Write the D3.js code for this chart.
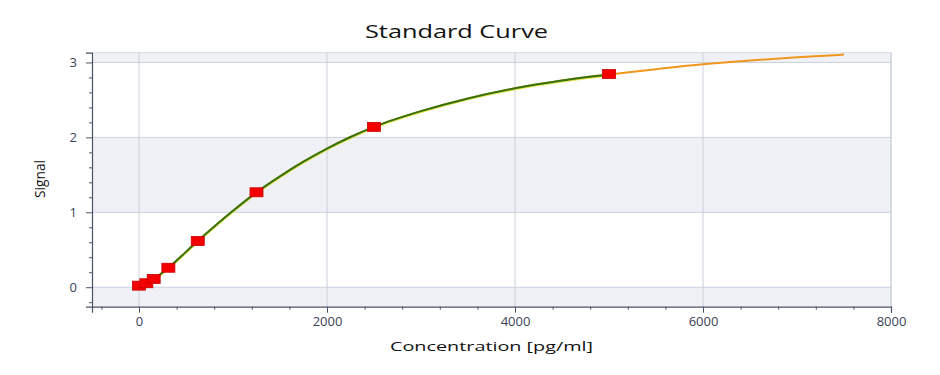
<!DOCTYPE html>
<html><head><meta charset="utf-8">
<script src="https://cdn.jsdelivr.net/npm/d3@7"></script>
<style>body{margin:0;background:#fff}svg{display:block}</style>
</head><body>
<svg id="c" width="940" height="375"></svg>
<script>
// Standards (measured points)
const stdConc   = [0, 78.125, 156.25, 312.5, 625, 1250, 2500, 5000];
const stdSignal = [0.021, 0.053, 0.11, 0.26, 0.617, 1.267, 2.14, 2.845];
// Fitted curve
const fitConc   = [0, 156, 312, 625, 1000, 1250, 1500, 1750, 2000, 2250, 2500, 3000, 3500, 4000, 4500, 5000, 5500, 6000, 6500, 7000, 7500];
const fitSignal = [0.02, 0.11, 0.26, 0.617, 1.02, 1.267, 1.48, 1.675, 1.85, 2.005, 2.14, 2.35, 2.52, 2.655, 2.76, 2.84, 2.91, 2.975, 3.025, 3.068, 3.105];
const xTicks = [0, 2000, 4000, 6000, 8000];
const yTicks = [0, 1, 2, 3];

const svg = d3.select("#c");
const L = 92, R = 891, T = 52.7, B = 306.7;
const x = d3.scaleLinear().domain([-500, 8000]).range([L, R]);
const y = d3.scaleLinear().domain([-0.26, 3.13]).range([B, T]);

// bands
const bandEdges = [y.domain()[0], 0, 1, 2, 3, y.domain()[1]];
for (let i = 0; i < bandEdges.length - 1; i++) {
  svg.append("rect").attr("x", L).attr("width", R - L)
    .attr("y", y(bandEdges[i + 1])).attr("height", y(bandEdges[i]) - y(bandEdges[i + 1]))
    .attr("fill", i % 2 === 0 ? "#eff1f6" : "#ffffff");
}
// grid
svg.append("g").selectAll("line").data(yTicks).join("line")
  .attr("x1", L).attr("x2", R).attr("y1", d => y(d)).attr("y2", d => y(d))
  .attr("stroke", "#c9d0dc").attr("stroke-width", 1);
svg.append("g").selectAll("line").data(xTicks).join("line")
  .attr("y1", T).attr("y2", B).attr("x1", d => x(d)).attr("x2", d => x(d))
  .attr("stroke", "#c9d0dc").attr("stroke-width", 1);
// frame top/right
svg.append("line").attr("x1", L).attr("x2", R).attr("y1", T).attr("y2", T).attr("stroke", "#d8dde6");
svg.append("line").attr("x1", R).attr("x2", R).attr("y1", T).attr("y2", B).attr("stroke", "#c9d0dc");

// curves
const line = d3.line().x(d => x(d[0])).y(d => y(d[1])).curve(d3.curveMonotoneX);
const fitPts = fitConc.map((c, i) => [c, fitSignal[i]]);
svg.append("path").datum(fitPts).attr("d", line).attr("fill", "none")
  .attr("stroke", "#f0961e").attr("stroke-width", 2);
svg.append("path").datum(fitPts.filter(d => d[0] <= 5000)).attr("d", line).attr("fill", "none")
  .attr("stroke", "#e8e04a").attr("stroke-width", 2.4).attr("transform", "translate(0,0.8)");
svg.append("path").datum(fitPts.filter(d => d[0] <= 5000)).attr("d", line).attr("fill", "none")
  .attr("stroke", "#33720f").attr("stroke-width", 2);

// markers
svg.append("g").selectAll("rect").data(stdConc.map((c, i) => [c, stdSignal[i]])).join("rect")
  .attr("x", d => x(d[0]) - 6.5).attr("y", d => y(d[1]) - 4.5)
  .attr("width", 13).attr("height", 9)
  .attr("fill", "#f40000").attr("stroke", "#c80000").attr("stroke-width", 0.8);

// axes
const axisColor = "#4a5468";
const gx = svg.append("g").attr("transform", `translate(0,${B})`)
  .call(d3.axisBottom(x).tickValues(xTicks).tickSize(6).tickPadding(4).tickFormat(d3.format("d")));
const gxm = svg.append("g").attr("transform", `translate(0,${B})`)
  .call(d3.axisBottom(x).tickValues(d3.range(-400, 8000, 400).filter(v => v % 2000 !== 0)).tickSize(3).tickFormat(""));
const gy = svg.append("g").attr("transform", `translate(${L},0)`)
  .call(d3.axisLeft(y).tickValues(yTicks).tickSize(6).tickPadding(9).tickFormat(d3.format("d")));
const gym = svg.append("g").attr("transform", `translate(${L},0)`)
  .call(d3.axisLeft(y).tickValues(d3.range(-0.2, 3.1, 0.2).map(v => +v.toFixed(1)).filter(v => Math.abs(v - Math.round(v)) > 0.01)).tickSize(3).tickFormat(""));
[gx, gxm, gy, gym].forEach(g => {
  g.select(".domain").attr("stroke", axisColor).attr("stroke-width", 1.2);
  g.selectAll(".tick line").attr("stroke", axisColor);
  g.selectAll("text").attr("fill", "#3a4255").style("font-family", "'Open Sans', sans-serif").style("font-size", "13px");
});
gxm.select(".domain").remove(); gym.select(".domain").remove();

// titles
svg.append("text").attr("x", 456.5).attr("y", 38.3).attr("text-anchor", "middle")
  .attr("textLength", 183).attr("lengthAdjust", "spacingAndGlyphs")
  .style("font-family", "'Open Sans', sans-serif").style("font-size", "18.5px").attr("fill", "#111")
  .text("Standard Curve");
svg.append("text").attr("x", 491.5).attr("y", 350.7).attr("text-anchor", "middle")
  .attr("textLength", 203).attr("lengthAdjust", "spacingAndGlyphs")
  .style("font-family", "'Open Sans', sans-serif").style("font-size", "13px").attr("fill", "#111")
  .text("Concentration [pg/ml]");
svg.append("text").attr("transform", "translate(45,179) rotate(-90) scale(1,1.25)").attr("text-anchor", "middle")
  .attr("textLength", 38).attr("lengthAdjust", "spacingAndGlyphs")
  .style("font-family", "'Open Sans', sans-serif").style("font-size", "12px").attr("fill", "#111")
  .text("Signal");
</script>
</body></html>
